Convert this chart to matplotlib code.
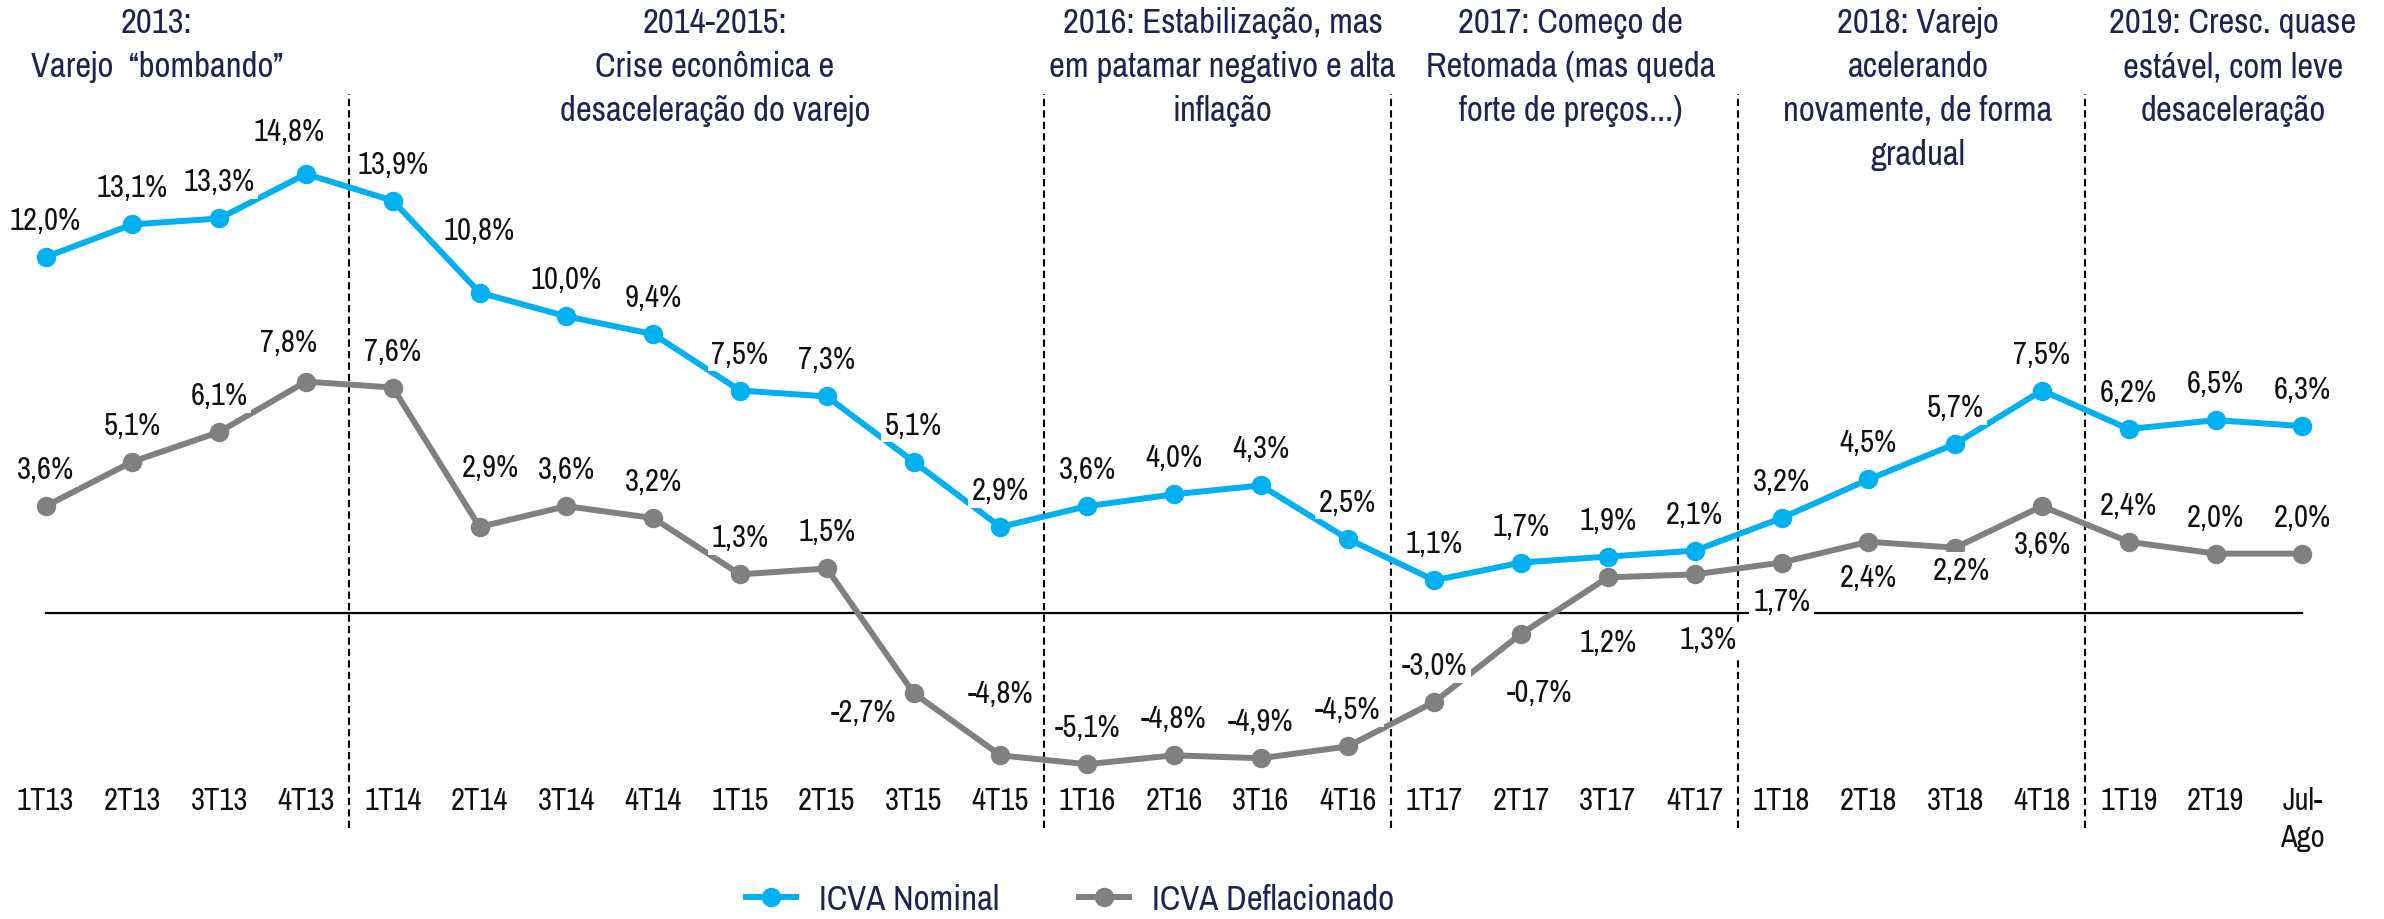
import matplotlib
matplotlib.use("Agg")
import matplotlib.pyplot as plt
from matplotlib.lines import Line2D

plt.rcParams['font.family'] = ['Archivo Narrow', 'Liberation Sans', 'DejaVu Sans']

# dados
periodos = ["1T13", "2T13", "3T13", "4T13", "1T14", "2T14", "3T14", "4T14",
            "1T15", "2T15", "3T15", "4T15", "1T16", "2T16", "3T16", "4T16",
            "1T17", "2T17", "3T17", "4T17", "1T18", "2T18", "3T18", "4T18",
            "1T19", "2T19", "Jul-\nAgo"]
icva_nominal = [12.0, 13.1, 13.3, 14.8, 13.9, 10.8, 10.0, 9.4, 7.5, 7.3, 5.1, 2.9,
                3.6, 4.0, 4.3, 2.5, 1.1, 1.7, 1.9, 2.1, 3.2, 4.5, 5.7, 7.5,
                6.2, 6.5, 6.3]
icva_deflacionado = [3.6, 5.1, 6.1, 7.8, 7.6, 2.9, 3.6, 3.2, 1.3, 1.5, -2.7, -4.8,
                     -5.1, -4.8, -4.9, -4.5, -3.0, -0.7, 1.2, 1.3, 1.7, 2.4, 2.2, 3.6,
                     2.4, 2.0, 2.0]
divisoes = [3.5, 11.5, 15.5, 19.5, 23.5]
titulos = ["2013:\nVarejo  \u201cbombando\u201d",
           "2014-2015:\nCrise econômica e\ndesaceleração do varejo",
           "2016: Estabilização, mas\nem patamar negativo e alta\ninflação",
           "2017: Começo de\nRetomada (mas queda\nforte de preços...)",
           "2018: Varejo\nacelerando\nnovamente, de forma\ngradual",
           "2019: Cresc. quase\nestável, com leve\ndesaceleração"]
titulo_x = [1.28, 7.71, 13.56, 17.57, 21.57, 25.2]

# deslocamento dos rótulos (px): padrão acima do ponto
desloc_nom = {3: (-17, 43), 5: (0, 63)}
desloc_def = {3: (-17, 40), 5: (11, 60), 10: (-50, -19), 11: (0, 62),
              17: (18, -58), 18: (0, -65), 19: (13, -65), 20: (0, -38),
              21: (0, -35), 22: (6, -22), 23: (0, -38)}

AZUL = "#00B0F0"
CINZA = "#808080"
NAVY = "#1F2352"
PX = 72 / 100  # px -> pt

fig = plt.figure(figsize=(23.84, 9.2), dpi=100)
ax = fig.add_axes([0, 145 / 920, 1, 775 / 920])
ax.set_xlim(-0.525, 26.94)
ax.set_ylim(-5.43, 20.70)
ax.axis("off")

x = list(range(len(periodos)))

ax.plot([x[0], x[-1]], [0, 0], color="black", lw=1.6, zorder=1)
for d in divisoes:
    ax.plot([d, d], [-7.25, 17.5], color="black", lw=1.5,
            linestyle=(0, (3.5, 2)), clip_on=False, zorder=1)

ax.plot(x, icva_nominal, color=AZUL, lw=4.3, marker="o", ms=13, zorder=3)
ax.plot(x, icva_deflacionado, color=CINZA, lw=4.3, marker="o", ms=13, zorder=2)

for serie, desloc in [(icva_nominal, desloc_nom), (icva_deflacionado, desloc_def)]:
    for i, v in enumerate(serie):
        dx, dy = desloc.get(i, (0, 37))
        ax.annotate(f"{v:.1f}%".replace(".", ","), (i, v),
                    xytext=(dx * PX, dy * PX), textcoords="offset points",
                    ha="center", va="center", fontsize=22, color="#111111",
                    bbox=dict(boxstyle="square,pad=0.12", fc="white", ec="none"),
                    zorder=5)

for i, lab in enumerate(periodos):
    ax.text(i, -5.85, lab, ha="center", va="top", fontsize=22,
            color="#111111", linespacing=1.35, clip_on=False)

for tx, t in zip(titulo_x, titulos):
    ax.text(tx, 20.45, t, ha="center", va="top", fontsize=25, color=NAVY,
            linespacing=1.45)

handles = [Line2D([], [], color=AZUL, lw=4.3, marker="o", ms=13),
           Line2D([], [], color=CINZA, lw=4.3, marker="o", ms=13)]
fig.legend(handles, ["ICVA Nominal", "ICVA Deflacionado"], loc="center",
           bbox_to_anchor=(1070 / 2384, 1 - 900 / 920), ncol=2, frameon=False,
           fontsize=25, labelcolor=NAVY, handlelength=1.45, handletextpad=0.66,
           columnspacing=2.3)

fig.savefig("out.png", dpi=100)
